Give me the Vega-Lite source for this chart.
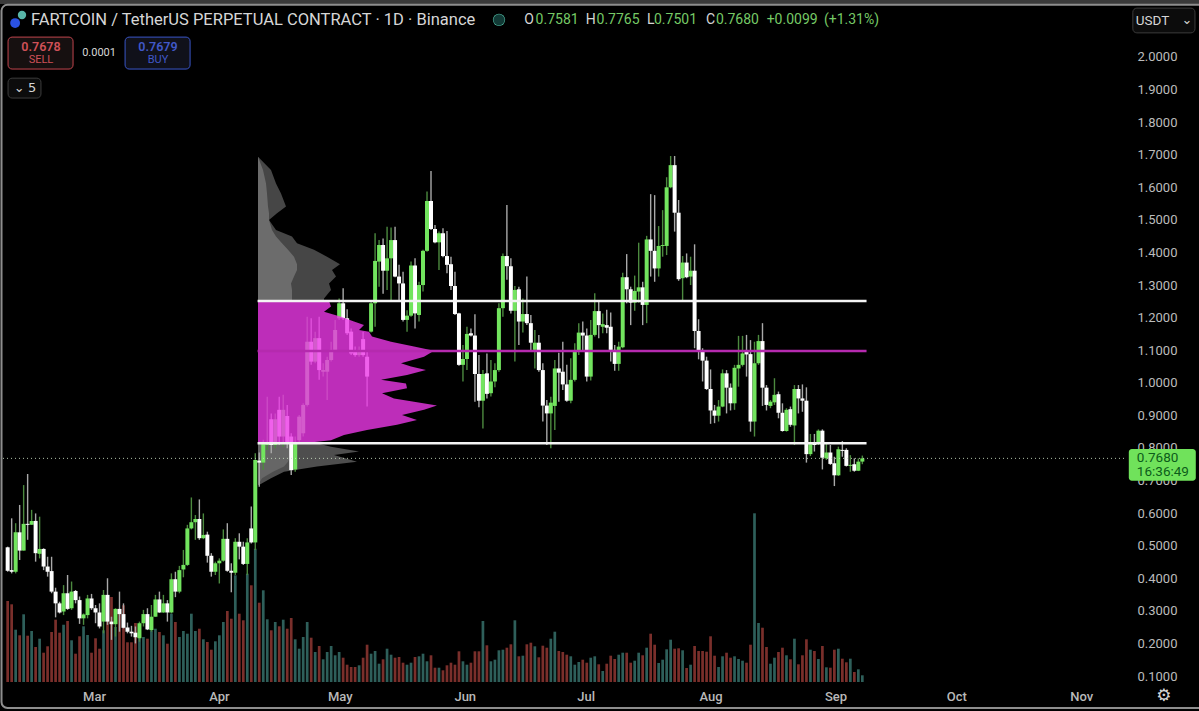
{"$schema":"https://vega.github.io/schema/vega-lite/v6.json","autosize":{"type":"none"},"padding":{"left":0,"top":0,"right":75,"bottom":29},"width":1124,"height":682,"background":"#000000","config":{"view":{"stroke":null},"text":{"font":"Roboto"}},
"datasets":{
"candles":[
{"t":"2025-02-06","o":0.495,"h":0.497,"l":0.42,"c":0.423,"v":810},{"t":"2025-02-07","o":0.425,"h":0.584,"l":0.415,"c":0.42,"v":777},{"t":"2025-02-08","o":0.42,"h":0.569,"l":0.415,"c":0.541,"v":523},{"t":"2025-02-09","o":0.541,"h":0.625,"l":0.456,"c":0.485,"v":467},{"t":"2025-02-10","o":0.485,"h":0.686,"l":0.485,"c":0.567,"v":677},{"t":"2025-02-11","o":0.567,"h":0.72,"l":0.518,"c":0.564,"v":463},{"t":"2025-02-12","o":0.564,"h":0.61,"l":0.564,"c":0.576,"v":510},{"t":"2025-02-13","o":0.576,"h":0.599,"l":0.451,"c":0.477,"v":350},{"t":"2025-02-14","o":0.475,"h":0.589,"l":0.461,"c":0.49,"v":433},{"t":"2025-02-15","o":0.49,"h":0.492,"l":0.425,"c":0.436,"v":293},{"t":"2025-02-16","o":0.436,"h":0.466,"l":0.405,"c":0.42,"v":357},{"t":"2025-02-17","o":0.422,"h":0.466,"l":0.354,"c":0.359,"v":500},{"t":"2025-02-18","o":0.359,"h":0.371,"l":0.28,"c":0.323,"v":623},{"t":"2025-02-19","o":0.323,"h":0.328,"l":0.292,"c":0.295,"v":493},{"t":"2025-02-20","o":0.298,"h":0.379,"l":0.287,"c":0.354,"v":573},{"t":"2025-02-21","o":0.354,"h":0.41,"l":0.303,"c":0.306,"v":610},{"t":"2025-02-22","o":0.308,"h":0.39,"l":0.303,"c":0.359,"v":417},{"t":"2025-02-23","o":0.361,"h":0.364,"l":0.323,"c":0.333,"v":283},{"t":"2025-02-24","o":0.333,"h":0.344,"l":0.26,"c":0.277,"v":457},{"t":"2025-02-25","o":0.277,"h":0.292,"l":0.257,"c":0.289,"v":557},{"t":"2025-02-26","o":0.287,"h":0.349,"l":0.277,"c":0.338,"v":470},{"t":"2025-02-27","o":0.338,"h":0.352,"l":0.303,"c":0.308,"v":293},{"t":"2025-02-28","o":0.308,"h":0.318,"l":0.262,"c":0.295,"v":437},
{"t":"2025-03-01","o":0.295,"h":0.323,"l":0.246,"c":0.252,"v":333},{"t":"2025-03-02","o":0.267,"h":0.364,"l":0.231,"c":0.349,"v":517},{"t":"2025-03-03","o":0.349,"h":0.4,"l":0.257,"c":0.267,"v":867},{"t":"2025-03-04","o":0.267,"h":0.282,"l":0.211,"c":0.259,"v":850},{"t":"2025-03-05","o":0.259,"h":0.308,"l":0.221,"c":0.306,"v":550},{"t":"2025-03-06","o":0.306,"h":0.359,"l":0.236,"c":0.29,"v":683},{"t":"2025-03-07","o":0.29,"h":0.323,"l":0.246,"c":0.248,"v":767},{"t":"2025-03-08","o":0.249,"h":0.264,"l":0.231,"c":0.236,"v":397},{"t":"2025-03-09","o":0.236,"h":0.254,"l":0.221,"c":0.231,"v":397},{"t":"2025-03-10","o":0.233,"h":0.252,"l":0.2,"c":0.219,"v":590},{"t":"2025-03-11","o":0.216,"h":0.267,"l":0.205,"c":0.262,"v":450},{"t":"2025-03-12","o":0.262,"h":0.303,"l":0.252,"c":0.29,"v":450},{"t":"2025-03-13","o":0.29,"h":0.308,"l":0.241,"c":0.243,"v":433},{"t":"2025-03-14","o":0.241,"h":0.318,"l":0.236,"c":0.282,"v":517},{"t":"2025-03-15","o":0.282,"h":0.349,"l":0.282,"c":0.335,"v":533},{"t":"2025-03-16","o":0.335,"h":0.359,"l":0.294,"c":0.295,"v":500},{"t":"2025-03-17","o":0.295,"h":0.349,"l":0.294,"c":0.323,"v":467},{"t":"2025-03-18","o":0.323,"h":0.333,"l":0.267,"c":0.295,"v":383},{"t":"2025-03-19","o":0.295,"h":0.415,"l":0.292,"c":0.397,"v":683},{"t":"2025-03-20","o":0.397,"h":0.42,"l":0.342,"c":0.359,"v":600},{"t":"2025-03-21","o":0.359,"h":0.438,"l":0.354,"c":0.425,"v":450},{"t":"2025-03-22","o":0.427,"h":0.487,"l":0.403,"c":0.441,"v":510},{"t":"2025-03-23","o":0.441,"h":0.564,"l":0.438,"c":0.553,"v":483},{"t":"2025-03-24","o":0.553,"h":0.648,"l":0.55,"c":0.572,"v":683},{"t":"2025-03-25","o":0.572,"h":0.594,"l":0.518,"c":0.582,"v":510},{"t":"2025-03-26","o":0.582,"h":0.642,"l":0.518,"c":0.523,"v":533},{"t":"2025-03-27","o":0.523,"h":0.599,"l":0.52,"c":0.533,"v":427},{"t":"2025-03-28","o":0.534,"h":0.543,"l":0.448,"c":0.469,"v":400},{"t":"2025-03-29","o":0.469,"h":0.477,"l":0.405,"c":0.42,"v":323},{"t":"2025-03-30","o":0.42,"h":0.451,"l":0.41,"c":0.446,"v":407},{"t":"2025-03-31","o":0.446,"h":0.461,"l":0.384,"c":0.454,"v":467},
{"t":"2025-04-01","o":0.454,"h":0.55,"l":0.451,"c":0.521,"v":600},{"t":"2025-04-02","o":0.521,"h":0.569,"l":0.42,"c":0.423,"v":710},{"t":"2025-04-03","o":0.423,"h":0.446,"l":0.357,"c":0.417,"v":633},{"t":"2025-04-04","o":0.417,"h":0.523,"l":0.41,"c":0.512,"v":1067},{"t":"2025-04-05","o":0.512,"h":0.538,"l":0.458,"c":0.497,"v":683},{"t":"2025-04-06","o":0.497,"h":0.512,"l":0.441,"c":0.444,"v":617},{"t":"2025-04-07","o":0.444,"h":0.523,"l":0.41,"c":0.51,"v":1083},{"t":"2025-04-08","o":0.553,"h":0.62,"l":0.507,"c":0.51,"v":967},{"t":"2025-04-09","o":0.51,"h":0.784,"l":0.487,"c":0.763,"v":1333},{"t":"2025-04-10","o":0.761,"h":0.786,"l":0.681,"c":0.755,"v":793},{"t":"2025-04-11","o":0.755,"h":0.825,"l":0.732,"c":0.814,"v":917},{"t":"2025-04-12","o":0.809,"h":0.957,"l":0.794,"c":0.814,"v":627},{"t":"2025-04-13","o":0.888,"h":0.906,"l":0.784,"c":0.809,"v":517},{"t":"2025-04-14","o":0.809,"h":0.906,"l":0.799,"c":0.888,"v":600},{"t":"2025-04-15","o":0.917,"h":0.957,"l":0.809,"c":0.835,"v":557},{"t":"2025-04-16","o":0.835,"h":0.963,"l":0.804,"c":0.917,"v":623},{"t":"2025-04-17","o":0.898,"h":0.932,"l":0.799,"c":0.814,"v":533},{"t":"2025-04-18","o":0.835,"h":0.845,"l":0.717,"c":0.732,"v":640},{"t":"2025-04-19","o":0.734,"h":0.835,"l":0.727,"c":0.812,"v":427},{"t":"2025-04-20","o":0.824,"h":0.901,"l":0.814,"c":0.896,"v":333},{"t":"2025-04-21","o":0.845,"h":0.937,"l":0.835,"c":0.932,"v":450},{"t":"2025-04-22","o":0.932,"h":1.203,"l":0.927,"c":1.126,"v":600},{"t":"2025-04-23","o":1.126,"h":1.198,"l":1.055,"c":1.065,"v":443},{"t":"2025-04-24","o":1.065,"h":1.157,"l":1.06,"c":1.137,"v":300},{"t":"2025-04-25","o":1.137,"h":1.203,"l":1.009,"c":1.039,"v":360},{"t":"2025-04-26","o":1.034,"h":1.06,"l":1.019,"c":1.039,"v":227},{"t":"2025-04-27","o":1.034,"h":1.08,"l":0.947,"c":1.07,"v":300},{"t":"2025-04-28","o":1.07,"h":1.126,"l":1.065,"c":1.101,"v":360},{"t":"2025-04-29","o":1.101,"h":1.193,"l":1.096,"c":1.162,"v":267},{"t":"2025-04-30","o":1.198,"h":1.259,"l":1.193,"c":1.244,"v":300},
{"t":"2025-05-01","o":1.244,"h":1.29,"l":1.193,"c":1.198,"v":243},{"t":"2025-05-02","o":1.198,"h":1.226,"l":1.147,"c":1.152,"v":173},{"t":"2025-05-03","o":1.157,"h":1.167,"l":1.085,"c":1.09,"v":150},{"t":"2025-05-04","o":1.096,"h":1.111,"l":1.08,"c":1.085,"v":150},{"t":"2025-05-05","o":1.085,"h":1.111,"l":1.08,"c":1.101,"v":167},{"t":"2025-05-06","o":1.134,"h":1.157,"l":1.08,"c":1.085,"v":243},{"t":"2025-05-07","o":1.08,"h":1.101,"l":0.927,"c":1.019,"v":373},{"t":"2025-05-08","o":1.157,"h":1.249,"l":1.154,"c":1.244,"v":283},{"t":"2025-05-09","o":1.244,"h":1.459,"l":1.172,"c":1.374,"v":310},{"t":"2025-05-10","o":1.372,"h":1.438,"l":1.295,"c":1.423,"v":183},{"t":"2025-05-11","o":1.423,"h":1.443,"l":1.273,"c":1.344,"v":227},{"t":"2025-05-12","o":1.344,"h":1.479,"l":1.285,"c":1.382,"v":333},{"t":"2025-05-13","o":1.382,"h":1.477,"l":1.254,"c":1.438,"v":273},{"t":"2025-05-14","o":1.438,"h":1.479,"l":1.324,"c":1.326,"v":243},{"t":"2025-05-15","o":1.326,"h":1.362,"l":1.254,"c":1.305,"v":250},{"t":"2025-05-16","o":1.305,"h":1.341,"l":1.188,"c":1.193,"v":193},{"t":"2025-05-17","o":1.193,"h":1.223,"l":1.157,"c":1.206,"v":173},{"t":"2025-05-18","o":1.206,"h":1.372,"l":1.203,"c":1.36,"v":193},{"t":"2025-05-19","o":1.36,"h":1.382,"l":1.167,"c":1.213,"v":250},{"t":"2025-05-20","o":1.208,"h":1.31,"l":1.188,"c":1.3,"v":257},{"t":"2025-05-21","o":1.3,"h":1.408,"l":1.28,"c":1.405,"v":283},{"t":"2025-05-22","o":1.405,"h":1.587,"l":1.402,"c":1.558,"v":207},{"t":"2025-05-23","o":1.558,"h":1.65,"l":1.469,"c":1.472,"v":267},{"t":"2025-05-24","o":1.472,"h":1.484,"l":1.428,"c":1.431,"v":143},{"t":"2025-05-25","o":1.431,"h":1.464,"l":1.346,"c":1.459,"v":143},{"t":"2025-05-26","o":1.459,"h":1.474,"l":1.385,"c":1.389,"v":117},{"t":"2025-05-27","o":1.389,"h":1.466,"l":1.336,"c":1.362,"v":167},{"t":"2025-05-28","o":1.364,"h":1.387,"l":1.285,"c":1.297,"v":193},{"t":"2025-05-29","o":1.297,"h":1.341,"l":1.208,"c":1.211,"v":173},{"t":"2025-05-30","o":1.213,"h":1.215,"l":1.052,"c":1.055,"v":307},{"t":"2025-05-31","o":1.055,"h":1.116,"l":1.004,"c":1.073,"v":207},
{"t":"2025-06-01","o":1.073,"h":1.172,"l":1.039,"c":1.15,"v":173},{"t":"2025-06-02","o":1.152,"h":1.167,"l":1.142,"c":1.145,"v":193},{"t":"2025-06-03","o":1.145,"h":1.21,"l":0.942,"c":1.027,"v":307},{"t":"2025-06-04","o":1.027,"h":1.085,"l":0.925,"c":0.945,"v":307},{"t":"2025-06-05","o":0.945,"h":1.039,"l":0.86,"c":1.027,"v":610},{"t":"2025-06-06","o":1.029,"h":1.09,"l":0.952,"c":0.966,"v":367},{"t":"2025-06-07","o":0.968,"h":1.07,"l":0.958,"c":1.004,"v":207},{"t":"2025-06-08","o":1.004,"h":1.06,"l":0.986,"c":1.039,"v":223},{"t":"2025-06-09","o":1.039,"h":1.244,"l":1.034,"c":1.229,"v":317},{"t":"2025-06-10","o":1.229,"h":1.397,"l":1.203,"c":1.389,"v":323},{"t":"2025-06-11","o":1.389,"h":1.546,"l":1.316,"c":1.358,"v":343},{"t":"2025-06-12","o":1.358,"h":1.382,"l":1.213,"c":1.221,"v":377},{"t":"2025-06-13","o":1.221,"h":1.297,"l":1.065,"c":1.285,"v":617},{"t":"2025-06-14","o":1.287,"h":1.295,"l":1.116,"c":1.188,"v":257},{"t":"2025-06-15","o":1.188,"h":1.259,"l":1.154,"c":1.211,"v":263},{"t":"2025-06-16","o":1.211,"h":1.326,"l":1.177,"c":1.183,"v":377},{"t":"2025-06-17","o":1.183,"h":1.208,"l":1.101,"c":1.123,"v":393},{"t":"2025-06-18","o":1.101,"h":1.162,"l":1.044,"c":1.123,"v":357},{"t":"2025-06-19","o":1.123,"h":1.147,"l":1.034,"c":1.039,"v":247},{"t":"2025-06-20","o":1.039,"h":1.06,"l":0.881,"c":0.93,"v":363},{"t":"2025-06-21","o":0.93,"h":0.947,"l":0.809,"c":0.906,"v":343},{"t":"2025-06-22","o":0.906,"h":0.957,"l":0.799,"c":0.939,"v":433},{"t":"2025-06-23","o":0.929,"h":1.07,"l":0.855,"c":1.044,"v":503},{"t":"2025-06-24","o":1.044,"h":1.092,"l":0.942,"c":1.031,"v":310},{"t":"2025-06-25","o":1.034,"h":1.126,"l":0.978,"c":0.995,"v":300},{"t":"2025-06-26","o":0.995,"h":1.055,"l":0.942,"c":0.945,"v":273},{"t":"2025-06-27","o":0.945,"h":1.075,"l":0.937,"c":1.009,"v":257},{"t":"2025-06-28","o":1.009,"h":1.121,"l":1.004,"c":1.096,"v":173},{"t":"2025-06-29","o":1.099,"h":1.183,"l":1.085,"c":1.154,"v":200},{"t":"2025-06-30","o":1.154,"h":1.188,"l":1.101,"c":1.145,"v":223},
{"t":"2025-07-01","o":1.145,"h":1.167,"l":1.004,"c":1.019,"v":193},{"t":"2025-07-02","o":1.019,"h":1.193,"l":1.007,"c":1.147,"v":243},{"t":"2025-07-03","o":1.147,"h":1.275,"l":1.142,"c":1.22,"v":257},{"t":"2025-07-04","o":1.22,"h":1.249,"l":1.137,"c":1.177,"v":177},{"t":"2025-07-05","o":1.172,"h":1.213,"l":1.152,"c":1.18,"v":110},{"t":"2025-07-06","o":1.177,"h":1.224,"l":1.152,"c":1.169,"v":183},{"t":"2025-07-07","o":1.172,"h":1.216,"l":1.065,"c":1.101,"v":263},{"t":"2025-07-08","o":1.101,"h":1.116,"l":1.037,"c":1.058,"v":230},{"t":"2025-07-09","o":1.058,"h":1.126,"l":1.037,"c":1.111,"v":273},{"t":"2025-07-10","o":1.109,"h":1.338,"l":1.106,"c":1.324,"v":293},{"t":"2025-07-11","o":1.324,"h":1.395,"l":1.244,"c":1.287,"v":293},{"t":"2025-07-12","o":1.287,"h":1.295,"l":1.177,"c":1.246,"v":193},{"t":"2025-07-13","o":1.246,"h":1.329,"l":1.221,"c":1.282,"v":213},{"t":"2025-07-14","o":1.28,"h":1.43,"l":1.246,"c":1.293,"v":293},{"t":"2025-07-15","o":1.293,"h":1.31,"l":1.177,"c":1.239,"v":267},{"t":"2025-07-16","o":1.239,"h":1.451,"l":1.183,"c":1.44,"v":343},{"t":"2025-07-17","o":1.44,"h":1.579,"l":1.326,"c":1.405,"v":483},{"t":"2025-07-18","o":1.405,"h":1.576,"l":1.31,"c":1.351,"v":373},{"t":"2025-07-19","o":1.351,"h":1.481,"l":1.326,"c":1.42,"v":190},{"t":"2025-07-20","o":1.42,"h":1.53,"l":1.387,"c":1.423,"v":223},{"t":"2025-07-21","o":1.42,"h":1.631,"l":1.392,"c":1.6,"v":327},{"t":"2025-07-22","o":1.6,"h":1.696,"l":1.597,"c":1.668,"v":423},{"t":"2025-07-23","o":1.668,"h":1.696,"l":1.464,"c":1.522,"v":333},{"t":"2025-07-24","o":1.522,"h":1.561,"l":1.313,"c":1.318,"v":337},{"t":"2025-07-25","o":1.321,"h":1.389,"l":1.254,"c":1.369,"v":317},{"t":"2025-07-26","o":1.369,"h":1.397,"l":1.321,"c":1.324,"v":140},{"t":"2025-07-27","o":1.326,"h":1.387,"l":1.3,"c":1.344,"v":173},{"t":"2025-07-28","o":1.344,"h":1.425,"l":1.106,"c":1.159,"v":360},{"t":"2025-07-29","o":1.159,"h":1.195,"l":1.072,"c":1.099,"v":310},{"t":"2025-07-30","o":1.096,"h":1.106,"l":1.004,"c":1.068,"v":310},{"t":"2025-07-31","o":1.068,"h":1.08,"l":0.978,"c":0.981,"v":303},
{"t":"2025-08-01","o":0.981,"h":1.041,"l":0.874,"c":0.915,"v":457},{"t":"2025-08-02","o":0.915,"h":0.932,"l":0.876,"c":0.899,"v":263},{"t":"2025-08-03","o":0.899,"h":0.947,"l":0.881,"c":0.927,"v":150},{"t":"2025-08-04","o":0.927,"h":1.041,"l":0.925,"c":1.029,"v":257},{"t":"2025-08-05","o":1.029,"h":1.039,"l":0.906,"c":0.985,"v":293},{"t":"2025-08-06","o":0.985,"h":0.998,"l":0.915,"c":0.937,"v":243},{"t":"2025-08-07","o":0.937,"h":1.055,"l":0.917,"c":1.046,"v":257},{"t":"2025-08-08","o":1.044,"h":1.144,"l":0.988,"c":1.055,"v":230},{"t":"2025-08-09","o":1.055,"h":1.144,"l":1.05,"c":1.09,"v":213},{"t":"2025-08-10","o":1.096,"h":1.147,"l":1.019,"c":1.087,"v":193},{"t":"2025-08-11","o":1.088,"h":1.131,"l":0.85,"c":0.881,"v":373},{"t":"2025-08-12","o":0.881,"h":1.126,"l":0.835,"c":1.06,"v":1687},{"t":"2025-08-13","o":1.06,"h":1.147,"l":1.055,"c":1.128,"v":590},{"t":"2025-08-14","o":1.128,"h":1.183,"l":0.929,"c":0.985,"v":543},{"t":"2025-08-15","o":0.985,"h":0.993,"l":0.915,"c":0.932,"v":350},{"t":"2025-08-16","o":0.929,"h":0.947,"l":0.922,"c":0.942,"v":183},{"t":"2025-08-17","o":0.94,"h":1.014,"l":0.932,"c":0.963,"v":243},{"t":"2025-08-18","o":0.965,"h":0.973,"l":0.891,"c":0.908,"v":300},{"t":"2025-08-19","o":0.908,"h":0.937,"l":0.85,"c":0.852,"v":343},{"t":"2025-08-20","o":0.852,"h":0.922,"l":0.85,"c":0.917,"v":267},{"t":"2025-08-21","o":0.919,"h":0.927,"l":0.865,"c":0.871,"v":227},{"t":"2025-08-22","o":0.869,"h":0.993,"l":0.809,"c":0.981,"v":433},{"t":"2025-08-23","o":0.981,"h":0.993,"l":0.906,"c":0.952,"v":177},{"t":"2025-08-24","o":0.952,"h":0.995,"l":0.911,"c":0.945,"v":267},{"t":"2025-08-25","o":0.945,"h":0.986,"l":0.755,"c":0.781,"v":427},{"t":"2025-08-26","o":0.781,"h":0.843,"l":0.775,"c":0.812,"v":323},{"t":"2025-08-27","o":0.814,"h":0.843,"l":0.789,"c":0.809,"v":310},{"t":"2025-08-28","o":0.812,"h":0.857,"l":0.809,"c":0.853,"v":230},{"t":"2025-08-29","o":0.853,"h":0.857,"l":0.734,"c":0.77,"v":360},{"t":"2025-08-30","o":0.768,"h":0.814,"l":0.763,"c":0.786,"v":147},{"t":"2025-08-31","o":0.786,"h":0.809,"l":0.748,"c":0.751,"v":143},
{"t":"2025-09-01","o":0.753,"h":0.773,"l":0.683,"c":0.716,"v":323},{"t":"2025-09-02","o":0.716,"h":0.804,"l":0.714,"c":0.796,"v":333},{"t":"2025-09-03","o":0.794,"h":0.821,"l":0.773,"c":0.791,"v":233},{"t":"2025-09-04","o":0.794,"h":0.799,"l":0.743,"c":0.745,"v":197},{"t":"2025-09-05","o":0.745,"h":0.778,"l":0.727,"c":0.748,"v":233},{"t":"2025-09-06","o":0.75,"h":0.768,"l":0.727,"c":0.73,"v":100},{"t":"2025-09-07","o":0.73,"h":0.768,"l":0.729,"c":0.758,"v":127},{"t":"2025-09-08","o":0.7581,"h":0.7765,"l":0.7501,"c":0.768,"v":67}
],
"profileUpper":[{"p":1.694,"total":0,"inner":0},{"p":1.653,"total":13,"inner":5},{"p":1.612,"total":18,"inner":8},{"p":1.581,"total":23,"inner":9},{"p":1.541,"total":28,"inner":10},{"p":1.52,"total":19,"inner":11},{"p":1.5,"total":11,"inner":11},{"p":1.469,"total":18,"inner":14},{"p":1.449,"total":34,"inner":18},{"p":1.428,"total":39,"inner":24},{"p":1.408,"total":56,"inner":30},{"p":1.387,"total":69,"inner":36},{"p":1.364,"total":82,"inner":39},{"p":1.346,"total":74,"inner":39},{"p":1.326,"total":78,"inner":36},{"p":1.305,"total":71,"inner":33},{"p":1.285,"total":73,"inner":34},{"p":1.259,"total":66,"inner":34},{"p":1.252,"total":66,"inner":34}],
"profileValue":[{"p":1.251,"total":71},{"p":1.234,"total":73},{"p":1.218,"total":66},{"p":1.203,"total":83},{"p":1.188,"total":96},{"p":1.177,"total":106},{"p":1.162,"total":101},{"p":1.157,"total":111},{"p":1.142,"total":114},{"p":1.126,"total":133},{"p":1.111,"total":156},{"p":1.098,"total":176},{"p":1.08,"total":166},{"p":1.06,"total":143},{"p":1.05,"total":153},{"p":1.039,"total":168},{"p":1.024,"total":149},{"p":1.009,"total":123},{"p":0.998,"total":148},{"p":0.983,"total":149},{"p":0.968,"total":124},{"p":0.952,"total":136},{"p":0.942,"total":156},{"p":0.93,"total":179},{"p":0.917,"total":166},{"p":0.901,"total":144},{"p":0.886,"total":159},{"p":0.871,"total":139},{"p":0.855,"total":109},{"p":0.84,"total":86},{"p":0.824,"total":73},{"p":0.814,"total":43}],
"profileLower":[{"p":0.814,"total":60,"inner":36},{"p":0.804,"total":73,"inner":36},{"p":0.789,"total":101,"inner":35},{"p":0.778,"total":76,"inner":33},{"p":0.758,"total":99,"inner":30},{"p":0.743,"total":59,"inner":26},{"p":0.727,"total":26,"inner":15},{"p":0.707,"total":13,"inner":4},{"p":0.686,"total":1,"inner":0}],
"levels":[{"from":"2025-04-10T14:00:00Z","to":"2025-09-08T17:00:00Z","price":1.251,"level":"VAH"},{"from":"2025-04-10T14:00:00Z","to":"2025-09-08T17:00:00Z","price":1.0975,"level":"POC"},{"from":"2025-04-10T14:00:00Z","to":"2025-09-08T17:00:00Z","price":0.8143,"level":"VAL"}],
"boxes":[{"from":"2025-02-07T16:00:00Z","to":"2025-02-23T19:00:00Z","top":2.061,"bottom":1.963,"kind":"sell"},{"from":"2025-03-08T17:00:00Z","to":"2025-03-24T20:00:00Z","top":2.061,"bottom":1.963,"kind":"buy"},{"from":"2025-02-07T16:00:00Z","to":"2025-02-15T20:00:00Z","top":1.935,"bottom":1.874,"kind":"plain"},{"from":"2025-11-13T19:00:00Z","to":"2025-11-29T05:00:00Z","top":2.15,"bottom":2.074,"kind":"plain"}],
"dots":[{"t":"2025-02-11T03:00:00Z","p":2.129,"name":"logoBack"},{"t":"2025-02-09T10:00:00Z","p":2.104,"name":"logoFront"},{"t":"2025-06-09T12:00:00Z","p":2.114,"name":"statusHalo"},{"t":"2025-06-09T12:00:00Z","p":2.114,"name":"status"}],
"left":[
{"t":"2025-02-13T09:00:00Z","p":2.114,"label":"FARTCOIN / TetherUS PERPETUAL CONTRACT · 1D · Binance","group":"title","tone":"light"},
{"t":"2025-06-15T19:00:00Z","p":2.114,"label":"O","group":"ohlc","tone":"light"},{"t":"2025-06-18T14:00:00Z","p":2.114,"label":"0.7581","group":"ohlc","tone":"green"},
{"t":"2025-07-01T00:00:00Z","p":2.114,"label":"H","group":"ohlc","tone":"light"},{"t":"2025-07-03T17:00:00Z","p":2.114,"label":"0.7765","group":"ohlc","tone":"green"},
{"t":"2025-07-16T05:00:00Z","p":2.114,"label":"L","group":"ohlc","tone":"light"},{"t":"2025-07-17T23:00:00Z","p":2.114,"label":"0.7501","group":"ohlc","tone":"green"},
{"t":"2025-07-30T21:00:00Z","p":2.114,"label":"C","group":"ohlc","tone":"light"},{"t":"2025-08-02T08:00:00Z","p":2.114,"label":"0.7680","group":"ohlc","tone":"green"},
{"t":"2025-08-14T22:00:00Z","p":2.114,"label":"+0.0099","group":"ohlc","tone":"green"},{"t":"2025-08-29T03:00:00Z","p":2.114,"label":"(+1.31%)","group":"ohlc","tone":"green"},
{"t":"2025-11-14T13:00:00Z","p":2.11,"label":"USDT","group":"ui","tone":"light"},
{"t":"2025-11-14T19:00:00Z","p":0.769,"label":"0.7680","group":"tag","tone":"dark"},{"t":"2025-11-14T19:00:00Z","p":0.726,"label":"16:36:49","group":"tag","tone":"dark"}],
"center":[
{"t":"2025-02-15T20:00:00Z","p":2.031,"label":"0.7678","group":"price","tone":"red"},{"t":"2025-02-15T20:00:00Z","p":1.991,"label":"SELL","group":"side","tone":"red"},
{"t":"2025-03-16T21:00:00Z","p":2.031,"label":"0.7679","group":"price","tone":"blue"},{"t":"2025-03-16T21:00:00Z","p":1.991,"label":"BUY","group":"side","tone":"blue"},
{"t":"2025-03-02T06:00:00Z","p":2.012,"label":"0.0001","group":"side","tone":"light"},
{"t":"2025-02-13T15:00:00Z","p":1.905,"label":"5","group":"five","tone":"light"},{"t":"2025-02-10T10:00:00Z","p":1.905,"label":"⌄","group":"five","tone":"light"},{"t":"2025-11-27T05:00:00Z","p":2.114,"label":"⌄","group":"five","tone":"light"},
{"t":"2025-11-21T12:00:00Z","p":0.0386,"label":"⚙","group":"gear","tone":"light"}]
},
"resolve":{"scale":{"x":"independent","y":"independent","color":"independent"}},
"layer":[
{"encoding":{"x":{"field":"from","type":"temporal","scale":{"type":"utc","domain":["2025-02-05T16:00:00Z","2025-11-11T14:24:00Z"]},
   "axis":{"values":["2025-03-01","2025-04-01","2025-05-01","2025-06-01","2025-07-01","2025-08-01","2025-09-01","2025-10-01","2025-11-01"],"format":"%b","title":null,"grid":false,"ticks":false,"domain":false,"labelColor":"#b9b9b9","labelFont":"Roboto","labelFontSize":13,"labelFontWeight":500,"labelPadding":8,"labelOverlap":false,"labelFlush":false}},"x2":{"field":"to"},
  "y":{"field":"top","type":"quantitative","scale":{"domain":[0.0816,2.1749],"nice":false,"zero":false},
   "axis":{"orient":"right","values":[0.1,0.2,0.3,0.4,0.5,0.6,0.7,0.8,0.9,1,1.1,1.2,1.3,1.4,1.5,1.6,1.7,1.8,1.9,2],"format":".4f","title":null,"grid":false,"ticks":false,"domain":false,"labelColor":"#bcbcbc","labelFont":"Roboto","labelFontSize":13,"labelPadding":13,"labelOverlap":false,"labelFlush":false}},"y2":{"field":"bottom"}},
 "layer":[
 {"data":{"values":[{"from":"2025-02-05T01:00:00Z","to":"2025-12-05T00:00:00Z","top":2.2,"bottom":2.1626}]},"mark":{"type":"rect","fill":"#3a3a3a"}},
 {"data":{"values":[{"from":"2025-02-06T01:00:00Z","to":"2025-12-01T18:00:00Z","top":2.16,"bottom":0.002}]},"mark":{"type":"rect","fill":"transparent","stroke":"#8e8e8e","strokeWidth":2,"cornerRadius":6}}
 ]},
{"data":{"name":"candles"},
 "mark":{"type":"bar","size":2.7},
 "encoding":{"x":{"field":"t","type":"temporal","scale":{"type":"utc","domain":["2025-02-05T08:00:00Z","2025-11-11T06:24:00Z"]},"axis":null},"y":{"field":"v","type":"quantitative","scale":{"domain":[0,6820],"nice":false},"axis":null},"color":{"condition":{"test":"datum.c>=datum.o","value":"#2e5f5a"},"value":"#7a2f2b"}}},
{"encoding":{"x":{"field":"total","type":"quantitative","scale":{"domain":[-258,866],"nice":false,"zero":false},"axis":null},"x2":{"datum":0},"y":{"field":"p","type":"quantitative","scale":{"domain":[0.0816,2.1749],"nice":false,"zero":false},"axis":null}},
 "layer":[
 {"data":{"name":"profileUpper"},"mark":{"type":"area","orient":"horizontal","color":"#464646"}},
 {"data":{"name":"profileLower"},"mark":{"type":"area","orient":"horizontal","color":"#4e4e4e"}},
 {"data":{"name":"profileUpper"},"mark":{"type":"area","orient":"horizontal","color":"#6c6c6c"},"encoding":{"x":{"field":"inner","type":"quantitative"}}},
 {"data":{"name":"profileLower"},"mark":{"type":"area","orient":"horizontal","color":"#666666"},"encoding":{"x":{"field":"inner","type":"quantitative"}}}
 ]},
{"data":{"name":"candles"},
 "encoding":{"x":{"field":"t","type":"temporal","scale":{"type":"utc","domain":["2025-02-05T08:00:00Z","2025-11-11T06:24:00Z"]},"axis":null},
  "y":{"field":"o","type":"quantitative","scale":{"domain":[0.0816,2.1749],"nice":false,"zero":false},"axis":null}},
 "layer":[
 {"mark":{"type":"rule","strokeWidth":1.4},"encoding":{"y":{"field":"l","type":"quantitative"},"y2":{"field":"h"},"color":{"condition":{"test":"datum.c>=datum.o","value":"#4c8a3f"},"value":"#a9a9a9"}}},
 {"mark":{"type":"bar","size":4},"encoding":{"y2":{"field":"c"},"color":{"condition":{"test":"datum.c>=datum.o","value":"#72e45e"},"value":"#ffffff"}}}
 ]},
{"data":{"name":"profileValue"},"mark":{"type":"area","orient":"horizontal","color":"#ec38e7","opacity":0.8},
 "encoding":{"x":{"field":"total","type":"quantitative","scale":{"domain":[-258,866],"nice":false,"zero":false},"axis":null},"x2":{"datum":0},"y":{"field":"p","type":"quantitative","scale":{"domain":[0.0816,2.1749],"nice":false,"zero":false},"axis":null}}},
{"encoding":{"y":{"field":"price","type":"quantitative","scale":{"domain":[0.0816,2.1749],"nice":false,"zero":false},"axis":null}},
 "layer":[
 {"data":{"values":[{"price":0.768}]},"mark":{"type":"rule","color":"#cfe3c6","strokeWidth":1,"strokeDash":[1,3],"opacity":0.85}},
 {"data":{"name":"levels"},"mark":{"type":"rule","strokeWidth":2.4},"encoding":{"x":{"field":"from","type":"temporal","scale":{"type":"utc","domain":["2025-02-05T16:00:00Z","2025-11-11T14:24:00Z"]},"axis":null},"x2":{"field":"to"},"color":{"field":"level","type":"nominal","legend":null,"scale":{"domain":["VAH","POC","VAL"],"range":["#f4f4f4","#b52aae","#f4f4f4"]}}}}
 ]},
{"encoding":{"x":{"field":"t","type":"temporal","scale":{"type":"utc","domain":["2025-02-05T16:00:00Z","2025-11-11T14:24:00Z"]},"axis":null},
  "y":{"field":"p","type":"quantitative","scale":{"domain":[0.0816,2.1749],"nice":false,"zero":false},"axis":null}},
 "layer":[
 {"data":{"name":"boxes"},"mark":{"type":"rect","cornerRadius":4,"strokeWidth":1},
  "encoding":{"x":{"field":"from","type":"temporal"},"x2":{"field":"to"},"y":{"field":"top","type":"quantitative"},"y2":{"field":"bottom"},
   "fill":{"field":"kind","type":"nominal","legend":null,"scale":{"domain":["sell","buy","plain"],"range":["#161010","#10111a","#0c0c0c"]}},
   "stroke":{"field":"kind","type":"nominal","legend":null,"scale":{"domain":["sell","buy","plain"],"range":["#c2454e","#3a56c9","#3c3c3c"]}}}},
 {"data":{"values":[{"from":"2025-11-12T19:00:00Z","to":"2025-11-29T10:00:00Z","top":0.797,"bottom":0.699}]},"mark":{"type":"rect","color":"#70e25b","cornerRadius":3},
  "encoding":{"x":{"field":"from","type":"temporal"},"x2":{"field":"to"},"y":{"field":"top","type":"quantitative"},"y2":{"field":"bottom"}}},
 {"data":{"name":"dots"},"mark":{"type":"point","filled":true,"opacity":1},
  "encoding":{"size":{"field":"name","type":"ordinal","legend":null,"scale":{"domain":["logoBack","logoFront","statusHalo","status"],"range":[70,150,170,45]}},
   "color":{"field":"name","type":"nominal","legend":null,"scale":{"domain":["light","green","dark","red","blue","logoBack","logoFront","statusHalo","status"],"range":["#d6d6d6","#76c966","#0c5c1a","#cf5058","#4058c8","#58b5a8","#2b52e2","#123a36","#4fb79f"]}},
   "order":{"field":"name","sort":"ascending"}}},
 {"data":{"name":"left"},"transform":[{"filter":"datum.group=='title'"}],"mark":{"type":"text","align":"left","baseline":"middle","fontSize":16.5,"font":"Roboto"},"encoding":{"text":{"field":"label"},"color":{"field":"tone","type":"nominal","legend":null}}},
 {"data":{"name":"left"},"transform":[{"filter":"datum.group=='ohlc'"}],"mark":{"type":"text","align":"left","baseline":"middle","fontSize":14,"font":"Roboto"},"encoding":{"text":{"field":"label"},"color":{"field":"tone","type":"nominal","legend":null}}},
 {"data":{"name":"left"},"transform":[{"filter":"datum.group=='ui'||datum.group=='tag'"}],"mark":{"type":"text","align":"left","baseline":"middle","fontSize":13.5,"font":"Roboto"},"encoding":{"text":{"field":"label"},"color":{"field":"tone","type":"nominal","legend":null}}},
 {"data":{"name":"center"},"transform":[{"filter":"datum.group=='price'"}],"mark":{"type":"text","align":"center","baseline":"middle","fontSize":12.5,"fontWeight":600,"font":"Roboto"},"encoding":{"text":{"field":"label"},"color":{"field":"tone","type":"nominal","legend":null}}},
 {"data":{"name":"center"},"transform":[{"filter":"datum.group=='side'"}],"mark":{"type":"text","align":"center","baseline":"middle","fontSize":11,"font":"Roboto"},"encoding":{"text":{"field":"label"},"color":{"field":"tone","type":"nominal","legend":null}}},
 {"data":{"name":"center"},"transform":[{"filter":"datum.group=='five'"}],"mark":{"type":"text","align":"center","baseline":"middle","fontSize":13,"font":"DejaVu Sans"},"encoding":{"text":{"field":"label"},"color":{"field":"tone","type":"nominal","legend":null}}},
 {"data":{"name":"center"},"transform":[{"filter":"datum.group=='gear'"}],"mark":{"type":"text","align":"center","baseline":"middle","fontSize":17,"font":"DejaVu Sans"},"encoding":{"text":{"field":"label"},"color":{"field":"tone","type":"nominal","legend":null}}}
 ]}
]}
